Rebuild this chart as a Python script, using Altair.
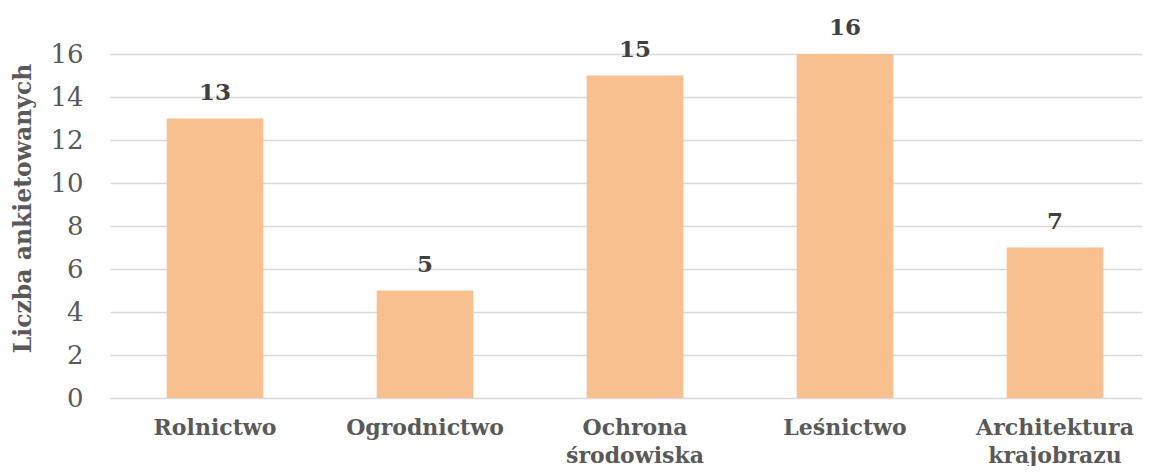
import altair as alt
import pandas as pd

categories = ["Rolnictwo", "Ogrodnictwo", "Ochrona|środowiska", "Leśnictwo", "Architektura|krajobrazu"]
values = [13, 5, 15, 16, 7]
y_ticks = [0, 2, 4, 6, 8, 10, 12, 14, 16]

df = pd.DataFrame({"kategoria": categories, "liczba": values})

FONT = "DejaVu Serif"

x = alt.X(
    "kategoria:N",
    sort=categories,
    scale=alt.Scale(paddingInner=0.54, paddingOuter=0.27, range=[0, 1050]),
    axis=alt.Axis(
        title=None,
        labelAngle=0,
        labelFont=FONT,
        labelFontWeight="bold",
        labelFontSize=22,
        labelColor="#595959",
        labelLineHeight=28,
        labelPadding=19,
        labelExpr="split(datum.label, '|')",
        ticks=False,
        domain=False,
        labelLimit=400,
    ),
)

y = alt.Y(
    "liczba:Q",
    scale=alt.Scale(domain=[0, 16], nice=False),
    axis=alt.Axis(
        title="Liczba ankietowanych",
        values=y_ticks,
        titleFont=FONT,
        titleFontWeight="bold",
        titleFontSize=23.5,
        titleColor="#595959",
        titleAngle=-90,
        titleAlign="center",
        titleBaseline="middle",
        titleX=-87,
        titleY=154,
        labelFont=FONT,
        labelFontSize=26,
        labelColor="#595959",
        labelPadding=27,
        ticks=False,
        domain=False,
        gridColor="#d9d9d9",
        gridWidth=1.5,
    ),
)

bars = alt.Chart(df).mark_bar(color="#F8BF8F").encode(x=x, y=y)

labels = alt.Chart(df).mark_text(
    font=FONT,
    fontWeight="bold",
    fontSize=23,
    color="#404040",
    baseline="alphabetic",
    dy=-19,
).encode(x=x, y=y, text="liczba:Q")

chart = (
    alt.layer(bars, labels)
    .properties(
        width=1032,
        height=344,
        autosize=alt.AutoSizeParams(type="none"),
        padding={"left": 102, "top": 46, "right": 0, "bottom": 68},
    )
    .configure_view(stroke=None)
)

chart.save("out.html", embed_options={"renderer": "svg", "actions": False})
